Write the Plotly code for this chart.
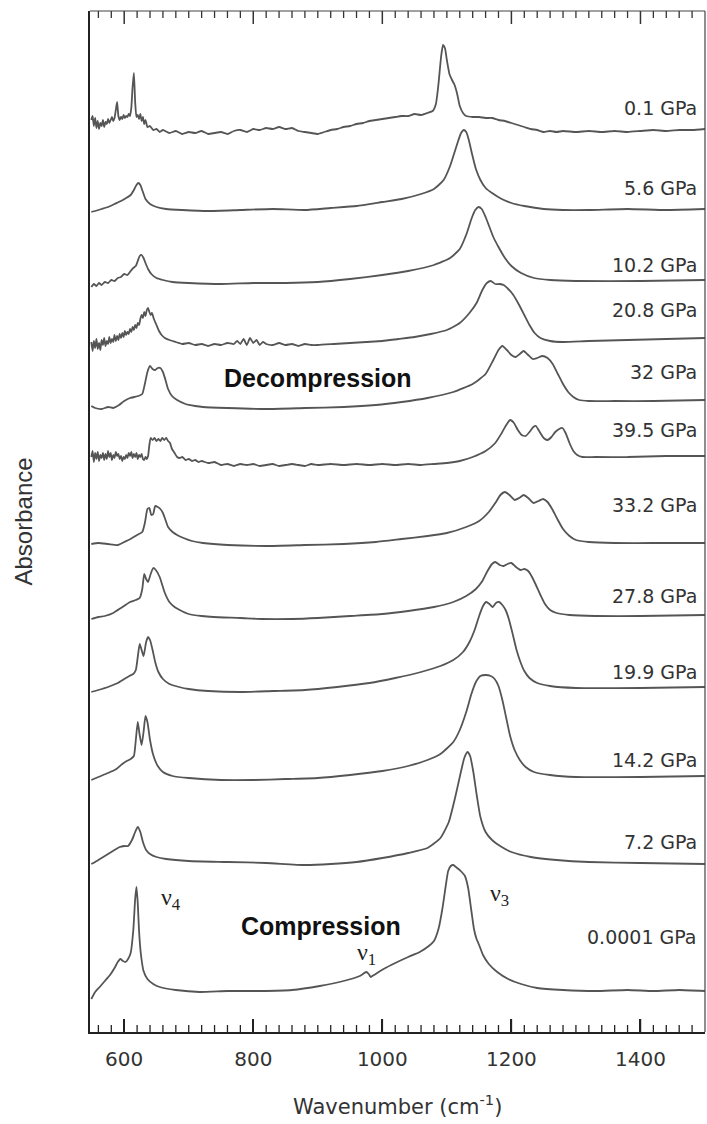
import plotly.graph_objects as go

# Pressure of each spectrum, top to bottom
pressures = ["0.1 GPa", "5.6 GPa", "10.2 GPa", "20.8 GPa", "32 GPa", "39.5 GPa",
             "33.2 GPa", "27.8 GPa", "19.9 GPa", "14.2 GPa", "7.2 GPa", "0.0001 GPa"]

# Vertical stacking offset of each spectrum (arbitrary absorbance units)
offsets = [900, 822, 749, 687, 624, 567, 487, 413, 340, 252, 170, 41]

# Height of each pressure label (same units)
label_y = [924, 844, 767, 722, 660, 602, 527, 436, 360, 272, 190, 95]

# Spectra: (wavenumber cm-1, absorbance) pairs
s_0p1 = [(549, 12), (551, 16), (553, 6), (555, 14), (557, 4), (559, 11), (561, 3), (563, 9), (565, 6),
         (567, 12), (569, 5), (571, 10), (573, 8), (575, 13), (577, 9), (579, 12), (581, 15), (583, 11),
         (585, 14), (587, 22), (589, 30), (591, 16), (593, 12), (595, 15), (597, 13), (599, 17), (601, 14),
         (603, 16), (605, 15), (607, 18), (609, 16), (611, 24), (613, 45), (615, 59), (617, 30), (619, 15),
         (621, 17), (623, 13), (625, 18), (627, 11), (629, 15), (631, 8), (633, 12), (636, 5), (640, 6),
         (645, 2), (650, 3), (655, 0), (660, 2), (670, -1), (680, 1), (690, -2), (700, 0), (710, -1),
         (720, 1), (730, -2), (740, -1), (750, 0), (760, -2), (770, 1), (780, 2), (790, 0), (800, 3),
         (810, 2), (820, 4), (830, 3), (840, 5), (850, 3), (860, 4), (870, 1), (880, 0), (890, -1),
         (900, -2), (910, 0), (920, 2), (930, 3), (940, 5), (950, 6), (960, 8), (970, 9), (980, 11),
         (990, 12), (1000, 13), (1010, 14), (1020, 15), (1030, 16), (1040, 16), (1050, 18), (1060, 17),
         (1070, 19), (1078, 21), (1083, 28), (1087, 48), (1091, 75), (1094, 87), (1097, 84), (1100, 72),
         (1104, 58), (1108, 52), (1112, 47), (1116, 38), (1120, 26), (1125, 19), (1130, 16), (1140, 15),
         (1150, 15), (1160, 14), (1170, 14), (1180, 12), (1190, 11), (1200, 9), (1210, 7), (1220, 5),
         (1230, 3), (1240, 2), (1250, 0), (1260, 1), (1270, 0), (1280, 1), (1300, 0), (1320, 1), (1340, 0),
         (1360, 1), (1380, 0), (1400, 1), (1420, 2), (1440, 1), (1460, 2), (1480, 2), (1500, 3)]

s_5p6 = [(549, -2), (555, -1), (565, 1), (575, 3), (585, 6), (595, 9), (603, 12), (610, 15), (615, 20),
         (619, 25), (622, 27), (625, 25), (629, 18), (633, 11), (640, 6), (650, 3), (665, 1), (690, 0),
         (730, -1), (780, 0), (830, 1), (880, 0), (920, 2), (960, 4), (1000, 8), (1030, 11), (1060, 16),
         (1080, 21), (1095, 30), (1105, 44), (1112, 58), (1118, 70), (1122, 77), (1126, 80), (1130, 78),
         (1134, 70), (1139, 56), (1145, 41), (1152, 30), (1160, 22), (1170, 17), (1185, 11), (1200, 7),
         (1220, 4), (1250, 1), (1280, 0), (1320, 0), (1380, 1), (1440, 0), (1500, 1)]

s_10p2 = [(549, -4), (553, -1), (557, -3), (561, 0), (565, -2), (570, 1), (575, 0), (580, 3), (585, 2),
          (590, 5), (595, 6), (600, 9), (605, 8), (610, 12), (614, 15), (618, 17), (621, 22), (624, 27),
          (627, 28), (630, 25), (633, 20), (637, 14), (642, 9), (650, 5), (660, 3), (675, 1), (700, 0),
          (750, -1), (800, 0), (850, 0), (900, 1), (950, 4), (1000, 8), (1040, 12), (1080, 18), (1105, 25),
          (1120, 34), (1131, 50), (1138, 64), (1144, 73), (1149, 76), (1154, 74), (1160, 66), (1166, 56),
          (1172, 46), (1180, 36), (1190, 25), (1200, 17), (1215, 10), (1235, 5), (1260, 3), (1300, 2),
          (1400, 2), (1500, 3)]

s_20p8 = [(549, 3), (551, -6), (553, 4), (555, -3), (557, 6), (559, -4), (561, 2), (563, -5), (565, 5),
          (567, 0), (569, 7), (571, -1), (573, 4), (575, 1), (577, 8), (579, 2), (581, 6), (583, 3),
          (585, 10), (587, 4), (589, 9), (591, 5), (593, 11), (595, 7), (597, 12), (599, 8), (601, 14),
          (603, 10), (605, 13), (607, 11), (609, 16), (611, 13), (613, 18), (615, 15), (617, 20), (619, 17),
          (621, 22), (623, 20), (625, 26), (627, 30), (629, 27), (631, 33), (633, 29), (635, 35), (637, 37),
          (639, 33), (641, 30), (643, 32), (646, 26), (650, 20), (654, 14), (658, 10), (663, 7), (670, 5),
          (680, 3), (690, 1), (700, 2), (710, 0), (720, 1), (730, -1), (740, 1), (750, 0), (760, 2),
          (770, 1), (775, 4), (780, 1), (785, 6), (790, 0), (795, 7), (800, 2), (805, 5), (810, 0),
          (815, 3), (820, 1), (830, 0), (840, 2), (850, 0), (860, 1), (870, -1), (880, 1), (890, 0),
          (900, 0), (925, 1), (950, 2), (975, 3), (1000, 4), (1025, 6), (1050, 8), (1075, 11), (1100, 15),
          (1120, 22), (1135, 32), (1146, 42), (1155, 55), (1162, 62), (1168, 64), (1175, 61), (1182, 61),
          (1188, 60), (1195, 56), (1203, 50), (1212, 40), (1220, 30), (1228, 20), (1236, 12), (1245, 7),
          (1260, 4), (1280, 3), (1320, 4), (1380, 5), (1440, 6), (1500, 7)]

s_32 = [(549, 2), (555, 0), (565, -1), (575, 1), (583, 0), (592, 3), (600, 7), (609, 10), (616, 11),
        (622, 12), (628, 14), (632, 24), (636, 36), (640, 42), (644, 39), (648, 38), (652, 40), (656, 40),
        (660, 36), (664, 28), (668, 19), (674, 12), (682, 8), (695, 4), (710, 2), (722, 1), (760, 0),
        (820, -1), (880, 0), (940, 1), (990, 3), (1030, 6), (1070, 10), (1110, 16), (1140, 24), (1160, 34),
        (1172, 48), (1180, 58), (1186, 62), (1193, 58), (1200, 53), (1207, 51), (1213, 54), (1219, 57),
        (1226, 53), (1233, 49), (1240, 50), (1248, 52), (1256, 50), (1264, 44), (1272, 34), (1280, 24),
        (1288, 16), (1296, 11), (1305, 8), (1320, 7), (1360, 7), (1420, 7), (1500, 8)]

s_39p5 = [(549, 8), (551, 14), (553, 3), (555, 12), (557, 6), (559, 13), (561, 4), (563, 10), (565, 7),
          (567, 12), (569, 5), (571, 11), (573, 6), (575, 14), (577, 8), (579, 12), (581, 5), (583, 10),
          (585, 7), (587, 13), (589, 9), (591, 11), (593, 6), (595, 9), (597, 4), (599, 8), (601, 6),
          (603, 10), (605, 7), (607, 12), (609, 9), (611, 13), (613, 7), (615, 11), (617, 8), (619, 12),
          (621, 6), (623, 10), (625, 8), (627, 11), (629, 6), (631, 5), (633, 8), (635, 6), (637, 9),
          (639, 20), (641, 27), (644, 25), (647, 27), (650, 24), (653, 26), (656, 24), (659, 27), (662, 25),
          (665, 27), (668, 24), (671, 22), (674, 16), (678, 12), (682, 8), (686, 7), (690, 8), (695, 5),
          (700, 6), (705, 4), (710, 5), (715, 3), (720, 4), (730, 2), (740, 3), (750, 0), (760, 1),
          (770, -1), (780, 1), (790, 0), (800, 1), (810, -1), (820, 0), (830, 1), (840, -1), (850, 0),
          (860, 1), (870, 0), (880, -1), (890, 1), (900, 0), (920, 1), (940, 0), (960, 1), (980, 0),
          (1000, 1), (1020, 0), (1040, 1), (1060, 0), (1080, 1), (1100, 2), (1120, 4), (1140, 8),
          (1160, 14), (1175, 22), (1185, 32), (1192, 40), (1198, 45), (1204, 42), (1210, 35), (1216, 30),
          (1222, 29), (1228, 33), (1234, 38), (1238, 39), (1243, 34), (1250, 27), (1256, 25), (1262, 28),
          (1268, 33), (1274, 36), (1279, 37), (1284, 32), (1290, 22), (1296, 14), (1302, 10), (1310, 8),
          (1330, 8), (1380, 8), (1440, 9), (1500, 9)]

s_33p2 = [(549, 1), (560, 2), (575, 1), (590, 0), (600, 3), (610, 6), (620, 10), (628, 13), (632, 22),
          (636, 36), (639, 37), (642, 30), (645, 31), (648, 39), (652, 38), (656, 36), (660, 32), (664, 25),
          (668, 18), (675, 13), (682, 10), (692, 7), (705, 4), (722, 2), (760, 0), (820, -1), (880, 0),
          (940, 1), (990, 3), (1030, 6), (1070, 9), (1100, 12), (1130, 18), (1150, 24), (1165, 33),
          (1175, 42), (1183, 50), (1190, 53), (1197, 50), (1205, 45), (1212, 47), (1219, 50), (1226, 47),
          (1234, 42), (1242, 44), (1249, 46), (1256, 43), (1264, 35), (1272, 25), (1280, 16), (1290, 9),
          (1300, 5), (1320, 3), (1360, 2), (1420, 2), (1500, 2)]

s_27p8 = [(549, 0), (560, 2), (570, 3), (583, 6), (595, 11), (609, 17), (618, 19), (624, 21), (628, 30),
          (631, 45), (634, 40), (637, 37), (641, 45), (645, 51), (649, 49), (655, 42), (659, 34), (663, 26),
          (670, 17), (678, 12), (686, 9), (700, 5), (720, 3), (738, 2), (780, 1), (813, 0), (860, 0),
          (900, 1), (950, 3), (1000, 5), (1040, 8), (1080, 12), (1110, 17), (1130, 23), (1145, 30),
          (1155, 38), (1163, 48), (1170, 55), (1175, 57), (1182, 54), (1188, 53), (1194, 55), (1200, 56),
          (1207, 52), (1214, 49), (1220, 50), (1226, 48), (1232, 42), (1238, 34), (1245, 24), (1252, 15),
          (1260, 9), (1270, 6), (1290, 4), (1330, 3), (1400, 3), (1500, 4)]

s_19p9 = [(549, 0), (560, 2), (575, 5), (590, 9), (600, 13), (608, 16), (614, 18), (618, 22), (621, 35),
          (624, 48), (627, 42), (630, 36), (634, 50), (637, 55), (640, 52), (644, 42), (648, 30), (653, 20),
          (660, 13), (670, 8), (685, 5), (700, 3), (730, 1), (780, 0), (830, 1), (880, 2), (930, 5),
          (980, 9), (1020, 14), (1060, 20), (1090, 26), (1110, 32), (1125, 40), (1135, 50), (1143, 62),
          (1150, 76), (1156, 86), (1161, 90), (1166, 88), (1171, 85), (1176, 89), (1181, 90), (1186, 87),
          (1191, 82), (1196, 73), (1202, 58), (1208, 42), (1214, 30), (1220, 21), (1228, 14), (1240, 9),
          (1260, 6), (1300, 4), (1400, 4), (1500, 5)]

s_14p2 = [(549, 0), (560, 3), (575, 7), (588, 11), (597, 16), (604, 19), (610, 21), (615, 24), (618, 40),
          (621, 58), (624, 45), (627, 35), (630, 48), (633, 64), (636, 58), (640, 40), (645, 25), (652, 14),
          (660, 8), (675, 4), (700, 2), (750, 0), (800, 0), (850, 1), (900, 2), (950, 5), (1000, 9),
          (1040, 14), (1070, 20), (1090, 26), (1110, 38), (1120, 50), (1130, 68), (1138, 86), (1145, 98),
          (1152, 104), (1160, 105), (1168, 104), (1174, 101), (1180, 94), (1186, 80), (1192, 62),
          (1198, 44), (1205, 30), (1213, 20), (1222, 13), (1235, 8), (1260, 5), (1300, 3), (1400, 3),
          (1500, 4)]

s_7p2 = [(549, -2), (555, 0), (565, 4), (575, 8), (585, 12), (593, 15), (600, 16), (606, 16), (612, 22),
         (617, 30), (621, 35), (625, 30), (629, 20), (634, 12), (640, 8), (650, 5), (665, 3), (700, 1),
         (760, 0), (820, -1), (880, -3), (920, -2), (960, 0), (1000, 4), (1040, 9), (1070, 14), (1090, 24),
         (1103, 40), (1113, 65), (1121, 88), (1127, 104), (1132, 110), (1136, 106), (1141, 90), (1146, 68),
         (1152, 45), (1160, 30), (1170, 22), (1185, 15), (1200, 10), (1230, 5), (1270, 2), (1320, 0),
         (1400, -1), (1500, -2)]

s_0p0001 = [(549, -8), (555, -1), (562, 4), (570, 10), (578, 16), (585, 23), (590, 29), (594, 32),
            (598, 30), (602, 29), (606, 32), (610, 38), (614, 60), (617, 92), (619, 104), (621, 88),
            (623, 60), (626, 36), (630, 20), (636, 12), (645, 7), (655, 4), (680, 1), (717, -1), (760, 0),
            (810, 0), (860, 1), (903, 5), (940, 10), (965, 15), (975, 19), (979, 17), (982, 14), (987, 16),
            (1002, 22), (1020, 28), (1040, 34), (1058, 39), (1072, 45), (1080, 50), (1087, 62), (1093, 82),
            (1098, 104), (1102, 120), (1106, 125), (1110, 126), (1114, 124), (1118, 122), (1123, 119),
            (1128, 115), (1133, 103), (1138, 80), (1142, 62), (1146, 52), (1150, 46), (1156, 36),
            (1165, 27), (1178, 19), (1195, 12), (1215, 7), (1240, 3), (1280, 1), (1330, 0), (1380, 1),
            (1420, 0), (1460, 1), (1500, 0)]

spectra = [s_0p1, s_5p6, s_10p2, s_20p8, s_32, s_39p5, s_33p2, s_27p8, s_19p9, s_14p2, s_7p2, s_0p0001]

X_RANGE = [547, 1500]
Y_RANGE = [0, 1021]
MAJOR_STEP, MINOR_STEP = 200, 20
MAJOR_LEN, MINOR_LEN = 13, 7          # tick lengths in pixels
PLOT_H = 1021                         # plot-area height in pixels
LINE = "#555555"
TEXT = "#333333"
AXIS = "#222222"
TICK_FONT = "DejaVu Sans"

fig = go.Figure()

for name, data, off in zip(pressures, spectra, offsets):
    wn = [p[0] for p in data]
    ab = [p[1] + off for p in data]
    fig.add_trace(go.Scatter(x=wn, y=ab, mode="lines", name=name,
                             line=dict(color=LINE, width=1.8, shape="spline", smoothing=0.5),
                             showlegend=False, hoverinfo="skip"))

# Pressure labels at the right edge
for name, ly in zip(pressures, label_y):
    fig.add_annotation(x=1490, y=ly, text=name, showarrow=False, xanchor="right", yanchor="middle",
                       font=dict(family=TICK_FONT, size=19, color=TEXT))

# Cycle labels and band assignments
fig.add_annotation(x=900, y=654, text="<b>Decompression</b>", showarrow=False,
                   font=dict(family="Liberation Sans", size=25, color="#111111"))
fig.add_annotation(x=905, y=106, text="<b>Compression</b>", showarrow=False,
                   font=dict(family="Liberation Sans", size=25, color="#111111"))
for label, lx, lyy in [("ν<sub>4</sub>", 672, 133), ("ν<sub>1</sub>", 976, 78), ("ν<sub>3</sub>", 1182, 137)]:
    fig.add_annotation(x=lx, y=lyy, text=label, showarrow=False,
                       font=dict(family="Liberation Serif", size=24, color="#222222"))

# Axis titles
fig.add_annotation(xref="paper", yref="paper", x=0.5, y=0, yshift=-73, text="Wavenumber (cm<sup>-1</sup>)",
                   showarrow=False, yanchor="middle", font=dict(family=TICK_FONT, size=21, color=TEXT))
fig.add_annotation(xref="paper", yref="paper", x=0, xshift=-67, y=0.5, text="Absorbance", textangle=-90,
                   showarrow=False, xanchor="center", font=dict(family="Liberation Sans", size=24, color=TEXT))

fig.update_layout(
    width=707, height=1124,
    margin=dict(l=90, r=2, t=11, b=92),
    paper_bgcolor="white", plot_bgcolor="white",
    xaxis=dict(range=X_RANGE, showgrid=False, zeroline=False, showline=True, linecolor=AXIS,
               linewidth=2, mirror=False, ticks="inside", tickmode="linear", tick0=0, dtick=MAJOR_STEP,
               ticklen=MAJOR_LEN, tickwidth=1.5, tickcolor=AXIS,
               tickfont=dict(family=TICK_FONT, size=20, color=TEXT), ticklabelstandoff=8),
    yaxis=dict(range=Y_RANGE, showgrid=False, zeroline=False, showticklabels=False, ticks="",
               showline=True, linecolor=AXIS, linewidth=2.4),
)

# Inward tick marks on the bottom and top edges of the frame (every 20 cm-1, long every 200 cm-1)
tick_positions = [t for t in range(0, 1600, MINOR_STEP) if X_RANGE[0] < t < X_RANGE[1]]
for t in tick_positions:
    length = (MAJOR_LEN if t % MAJOR_STEP == 0 else MINOR_LEN) / PLOT_H
    width = 1.5 if t % MAJOR_STEP == 0 else 1.3
    fig.add_shape(type="line", xref="x", yref="paper", x0=t, x1=t, y0=0, y1=length,
                  line=dict(color=AXIS, width=width), layer="above")
    fig.add_shape(type="line", xref="x", yref="paper", x0=t, x1=t, y0=1, y1=1 - length,
                  line=dict(color="#333333", width=width), layer="above")

# Top and right borders of the frame
fig.add_shape(type="line", xref="paper", yref="paper", x0=0, x1=1, y0=1, y1=1,
              line=dict(color="#444444", width=1.2))
fig.add_shape(type="line", xref="paper", yref="paper", x0=1, x1=1, y0=0, y1=1,
              line=dict(color="#444444", width=1.2))

fig.write_html("out.html")
